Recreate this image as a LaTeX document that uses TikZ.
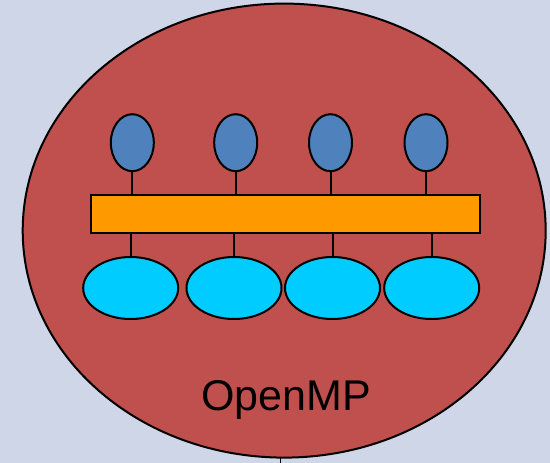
\documentclass[tikz,border=0pt]{standalone}
\usepackage{fontspec}
\setmainfont{Liberation Sans}
\usetikzlibrary{shapes.geometric}
\definecolor{bgblue}{RGB}{207,214,232}
\definecolor{ompred}{RGB}{192,80,77}
\definecolor{thrblue}{RGB}{79,129,189}
\definecolor{barorange}{RGB}{255,153,0}
\definecolor{datacyan}{RGB}{0,204,255}
\tikzset{
  outline/.style={draw=black, line width=2pt},
  thread/.style={outline, ellipse, fill=thrblue, inner sep=0pt, minimum width=43pt, minimum height=57pt},
  datum/.style={outline, ellipse, fill=datacyan, inner sep=0pt, minimum width=95pt, minimum height=62pt},
  link/.style={draw=black, line width=2pt},
}
\begin{document}
\begin{tikzpicture}[x=1pt, y=-1pt]
  % canvas
  \fill[bgblue] (0,0) rectangle (550,463);
  \useasboundingbox (0,0) rectangle (550,463);

  % enclosing OpenMP region
  \node[outline, ellipse, fill=ompred, inner sep=0pt,
        minimum width=523pt, minimum height=454pt] (omp) at (284.2,230.6) {};

  % shared bar
  \node[outline, rectangle, fill=barorange, inner sep=0pt,
        minimum width=389pt, minimum height=38pt] (bar) at (285.5,214.3) {};

  % threads above the bar
  \node[thread] (t1) at (132.3,142.7) {};
  \node[thread] (t2) at (235.7,142.7) {};
  \node[thread] (t3) at (330.5,142.7) {};
  \node[thread] (t4) at (426.0,142.7) {};

  % data below the bar
  \node[datum] (d1) at (130.7,288) {};
  \node[datum] (d2) at (234.0,288) {};
  \node[datum] (d3) at (332.5,288) {};
  \node[datum] (d4) at (431.7,288) {};

  \foreach \i in {1,...,4} {
    \draw[link] (t\i.south) -- (t\i.south |- bar.north);
    \draw[link] (d\i.north) -- (d\i.north |- bar.south);
  }

  % label
  \node[anchor=base, font=\fontsize{43pt}{43pt}\selectfont, inner sep=0pt] (lbl) at (286.3,410) {OpenMP};

  % small stub under the region
  \coordinate (stubtop) at (280.3,457.5);
  \coordinate (stubend) at (280.3,463);
  \draw[line width=1.2pt] (stubtop) -- (stubend);
\end{tikzpicture}
\end{document}
